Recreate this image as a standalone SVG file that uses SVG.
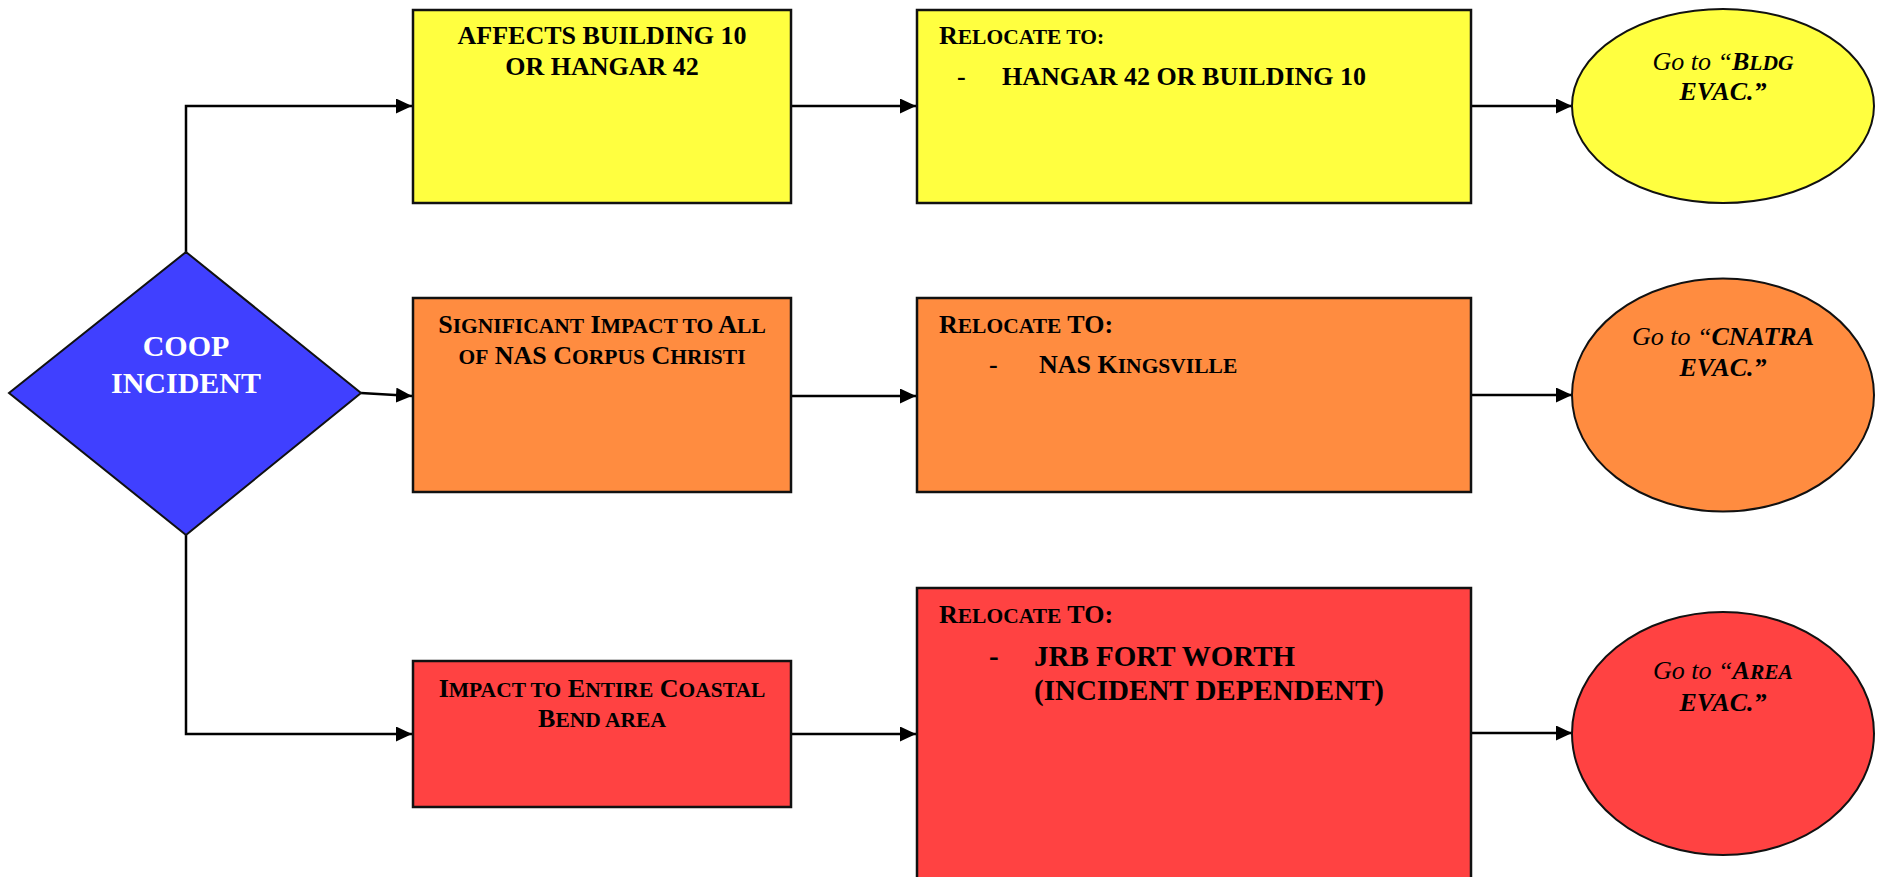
<svg xmlns="http://www.w3.org/2000/svg" width="1883" height="877" viewBox="0 0 1883 877">
<style>
.bx{stroke:#111;stroke-width:2.5}
.el{stroke:#111;stroke-width:2}
.y{fill:#FFFF40}.o{fill:#FF8C40}.r{fill:#FF4242}.b{fill:#4040FF}
.t{font-family:"Liberation Serif","Times New Roman",serif;font-weight:bold;font-size:26px;fill:#000}
.c{text-anchor:middle}
.sm{font-size:21.5px}
.it{font-style:italic}
.nb{font-weight:normal}
.w{fill:#fff;font-size:30px}
.big{font-size:29px}
.cn{fill:none;stroke:#000;stroke-width:2.5}
</style>
<defs>
<marker id="ah" markerUnits="userSpaceOnUse" markerWidth="16" markerHeight="16" refX="16" refY="7.5" orient="auto">
<path d="M0,0 L16,7.5 L0,15 z" fill="#000"/>
</marker>
</defs>
<rect width="1883" height="877" fill="#fff"/>
<g id="connectors">
<path class="cn" d="M186,252 V106 H412" marker-end="url(#ah)"/>
<path class="cn" d="M361,393 L412,396" marker-end="url(#ah)"/>
<path class="cn" d="M186,535 V734 H412" marker-end="url(#ah)"/>
<path class="cn" d="M791,106 H916" marker-end="url(#ah)"/>
<path class="cn" d="M791,396 H916" marker-end="url(#ah)"/>
<path class="cn" d="M791,734 H916" marker-end="url(#ah)"/>
<path class="cn" d="M1471,106 H1572" marker-end="url(#ah)"/>
<path class="cn" d="M1471,395 H1572" marker-end="url(#ah)"/>
<path class="cn" d="M1471,733 H1572" marker-end="url(#ah)"/>
</g>
<g id="coop">
<polygon class="b" points="186,252 361,393 186,535 9,393" stroke="#111" stroke-width="2"/>
<text class="t c w" x="186" y="356">COOP</text>
<text class="t c w" x="186" y="393">INCIDENT</text>
</g>
<g id="affects">
<rect class="bx y" x="413" y="10" width="378" height="193"/>
<text class="t c" x="602" y="44">AFFECTS BUILDING 10</text>
<text class="t c" x="602" y="75">OR HANGAR 42</text>
</g>
<g id="relocate1">
<rect class="bx y" x="917" y="10" width="554" height="193"/>
<text class="t" x="939" y="44">R<tspan class="sm">ELOCATE TO:</tspan></text>
<text class="t" x="957" y="85">-</text>
<text class="t" x="1002" y="85">HANGAR 42 OR BUILDING 10</text>
</g>
<g id="bldg-evac">
<ellipse class="el y" cx="1723" cy="106" rx="151" ry="97"/>
<text class="t c it" x="1723" y="70"><tspan class="nb">Go to “</tspan>B<tspan class="sm">LDG</tspan></text>
<text class="t c it" x="1723" y="100">EVAC.”</text>
</g>
<g id="significant">
<rect class="bx o" x="413" y="298" width="378" height="194"/>
<text class="t c" x="602" y="333">S<tspan class="sm">IGNIFICANT</tspan> I<tspan class="sm">MPACT TO</tspan> A<tspan class="sm">LL</tspan></text>
<text class="t c" x="602" y="364"><tspan class="sm">OF</tspan> NAS C<tspan class="sm">ORPUS</tspan> C<tspan class="sm">HRISTI</tspan></text>
</g>
<g id="relocate2">
<rect class="bx o" x="917" y="298" width="554" height="194"/>
<text class="t" x="939" y="333">R<tspan class="sm">ELOCATE</tspan> TO:</text>
<text class="t" x="989" y="373">-</text>
<text class="t" x="1039" y="373">NAS K<tspan class="sm">INGSVILLE</tspan></text>
</g>
<g id="cnatra-evac">
<ellipse class="el o" cx="1723" cy="395" rx="151" ry="116.5"/>
<text class="t c it" x="1723" y="345"><tspan class="nb">Go to “</tspan>CNATRA</text>
<text class="t c it" x="1723" y="376">EVAC.”</text>
</g>
<g id="coastal">
<rect class="bx r" x="413" y="661" width="378" height="146"/>
<text class="t c" x="602" y="697">I<tspan class="sm">MPACT TO</tspan> E<tspan class="sm">NTIRE</tspan> C<tspan class="sm">OASTAL</tspan></text>
<text class="t c" x="602" y="727">B<tspan class="sm">END AREA</tspan></text>
</g>
<g id="relocate3">
<rect class="bx r" x="917" y="588" width="554" height="300"/>
<text class="t" x="939" y="623">R<tspan class="sm">ELOCATE</tspan> TO:</text>
<text class="t big" x="989" y="666">-</text>
<text class="t big" x="1034" y="666">JRB FORT WORTH</text>
<text class="t big" x="1034" y="700">(INCIDENT DEPENDENT)</text>
</g>
<g id="area-evac">
<ellipse class="el r" cx="1723" cy="733.5" rx="151" ry="121.5"/>
<text class="t c it" x="1723" y="679"><tspan class="nb">Go to “</tspan>A<tspan class="sm">REA</tspan></text>
<text class="t c it" x="1723" y="711">EVAC.”</text>
</g>
</svg>
